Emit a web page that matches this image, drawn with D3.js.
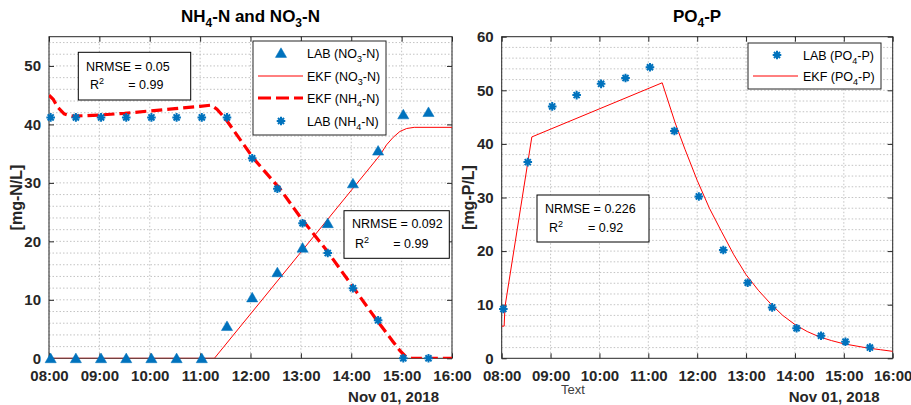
<!DOCTYPE html>
<html>
<head>
<meta charset="utf-8">
<script src="https://cdn.jsdelivr.net/npm/d3@7"></script>
<style>
  html, body { margin: 0; padding: 0; background: #fff; }
  svg { display: block; font-family: "Liberation Sans", Arial, sans-serif; }
</style>
</head>
<body>
<svg id="chart" width="911" height="405"></svg>
<script>
// ---------------- DATA ----------------
const xTickLabels = ["08:00","09:00","10:00","11:00","12:00","13:00","14:00","15:00","16:00"];
const leftYTicks = [0, 10, 20, 30, 40, 50];
const rightYTicks = [0, 10, 20, 30, 40, 50, 60];

const labTimes = ["08:02","08:32","09:02","09:32","10:02","10:32","11:02","11:32",
                  "12:02","12:32","13:02","13:32","14:02","14:32","15:02","15:32"];
const nh4Lab = [41.2,41.2,41.2,41.2,41.2,41.2,41.2,41.2,34.2,29.0,23.1,18.0,12.0,6.5,0.0,0.0];
const no3Lab = [0,0,0,0,0,0,0,5.5,10.4,14.7,18.9,23.1,29.9,35.5,41.7,42.1];
const po4Lab = [9.2,36.6,47.0,49.1,51.2,52.3,54.3,42.4,30.2,20.2,14.1,9.5,5.6,4.2,3.1,2.0];

const ekfNH4Times = ["08:00","08:05","08:10","08:18","08:27","09:00","09:30","10:00","10:30","11:00",
                     "11:13","11:20","11:30","12:04","12:35","13:00","13:31","14:02","14:30","14:50",
                     "14:58","15:05","15:12","16:00"];
const ekfNH4 = [45.0,44.3,43.0,41.8,41.4,41.6,41.9,42.3,42.7,43.1,
                43.3,42.6,41.0,34.1,29.0,24.0,18.4,12.2,6.6,2.8,
                1.3,0.3,0.0,0.0];

const ekfNO3Times = ["08:00","11:17","14:34","14:42","14:50","14:58","15:06","15:15","16:00"];
const ekfNO3 = [0,0,34.7,36.5,37.8,38.8,39.3,39.5,39.5];

const ekfPO4Times = ["08:00","08:03","08:04","08:37","11:17","11:33","11:45","12:00","12:15","12:30",
                     "12:45","13:00","13:15","13:30","13:45","14:00","14:15","14:30","14:45","15:00",
                     "15:15","15:30","15:45","16:00"];
const ekfPO4 = [6.0,6.0,9.6,41.3,51.4,43.9,39.0,33.2,28.0,23.6,
                19.3,15.6,12.7,10.2,8.0,6.3,5.0,4.0,3.3,2.7,
                2.3,1.9,1.6,1.3];

// ---------------- HELPERS ----------------
const parseT = d3.timeParse("%H:%M");
const svg = d3.select("#chart");
const AX = "#262626";
const BLUE = "#0072BD";
const RED = "#ff0000";
const GRID = "#b4b4b4";

function richText(g, x, y, parts, opts) {
  const t = g.append("text").attr("x", x).attr("y", y)
    .attr("font-size", opts.size).attr("font-weight", opts.weight || "normal")
    .attr("fill", opts.fill || "#000").attr("text-anchor", opts.anchor || "start");
  let shift = 0;
  parts.forEach(p => {
    const ts = t.append("tspan").text(p.t);
    let target = 0, fs = opts.size;
    if (p.sub) { target = opts.subShift; fs = opts.subSize; }
    if (p.sup) { target = -opts.supShift; fs = opts.subSize; }
    ts.attr("dy", target - shift).attr("font-size", fs);
    if (p.x !== undefined) ts.attr("x", p.x);
    shift = target;
  });
  return t;
}

function starPath(r) {
  const a = r * 0.7071;
  return `M${-r},0L${r},0M0,${-r}L0,${r}M${-a},${-a}L${a},${a}M${-a},${a}L${a},${-a}`;
}
const triPath = "M0,-5.2L5.6,4.4L-5.6,4.4Z";

function makePanel(cfg) {
  const { left, right, top, bottom, yMax, yTicks, id } = cfg;
  const x = d3.scaleTime().domain([parseT("08:00"), parseT("16:00")]).range([left, right]);
  const y = d3.scaleLinear().domain([0, yMax]).range([bottom, top]);
  const g = svg.append("g");

  g.append("defs").append("clipPath").attr("id", "clip" + id)
    .append("rect").attr("x", left).attr("y", top).attr("width", right - left).attr("height", bottom - top);

  // grid
  const grid = g.append("g");
  xTickLabels.map(parseT).forEach(t => {
    grid.append("line").attr("x1", x(t)).attr("x2", x(t)).attr("y1", top).attr("y2", bottom)
      .attr("stroke", GRID).attr("stroke-width", 0.8).attr("stroke-dasharray", "1.5,2");
  });
  d3.range(2, yMax, 2).forEach(v => {
    grid.append("line").attr("x1", left).attr("x2", right).attr("y1", y(v)).attr("y2", y(v))
      .attr("stroke", GRID).attr("stroke-width", 0.8).attr("stroke-dasharray", "1.5,2");
  });

  // axes
  const xAxis = d3.axisBottom(x).tickValues(xTickLabels.map(parseT))
    .tickFormat(d3.timeFormat("%H:%M")).tickSize(-5).tickPadding(12);
  const gx = g.append("g").attr("transform", `translate(0,${bottom})`).call(xAxis);
  const yAxis = d3.axisLeft(y).tickValues(yTicks).tickFormat(d3.format("d")).tickSize(-5).tickPadding(8);
  const gy = g.append("g").attr("transform", `translate(${left},0)`).call(yAxis);
  const gxt = g.append("g").attr("transform", `translate(0,${top})`)
    .call(d3.axisTop(x).tickValues(xTickLabels.map(parseT)).tickSize(-5).tickFormat(""));
  const gyr = g.append("g").attr("transform", `translate(${right},0)`)
    .call(d3.axisRight(y).tickValues(yTicks).tickSize(-5).tickFormat(""));
  [gx, gy, gxt, gyr].forEach(a => {
    a.select(".domain").remove();
    a.selectAll(".tick line").attr("stroke", AX).attr("stroke-width", 1);
    a.selectAll(".tick text").attr("fill", AX).attr("font-size", 15).attr("font-weight", "bold")
      .attr("font-family", '"Liberation Sans", Arial, sans-serif');
  });
  g.append("rect").attr("x", left).attr("y", top).attr("width", right - left).attr("height", bottom - top)
    .attr("fill", "none").attr("stroke", AX).attr("stroke-width", 1);

  // date label
  g.append("text").attr("x", right - 13).attr("y", 402).attr("text-anchor", "end")
    .attr("font-size", 15).attr("font-weight", "bold").attr("fill", AX).text("Nov 01, 2018");

  const plot = g.append("g").attr("clip-path", `url(#clip${id})`);
  return { x, y, g, plot };
}

// ---------------- LEFT PANEL ----------------
const L = makePanel({ id: "L", left: 49, right: 452, top: 36.7, bottom: 358.3, yMax: 55, yTicks: leftYTicks });

const line = (xs, ys) => d3.line().x((d, i) => xs(parseT(d.t))).y(d => ys(d.v));

L.plot.append("path")
  .datum(ekfNO3Times.map((t, i) => ({ t, v: ekfNO3[i] })))
  .attr("d", line(L.x, L.y)).attr("fill", "none").attr("stroke", RED).attr("stroke-width", 1);
L.plot.append("path")
  .datum(ekfNH4Times.map((t, i) => ({ t, v: ekfNH4[i] })))
  .attr("d", line(L.x, L.y)).attr("fill", "none").attr("stroke", RED).attr("stroke-width", 3.2)
  .attr("stroke-dasharray", "11,5");

L.g.selectAll(".tri").data(labTimes.map((t, i) => ({ t, v: no3Lab[i] }))).join("path")
  .attr("transform", d => `translate(${L.x(parseT(d.t))},${L.y(d.v)})`)
  .attr("d", triPath).attr("fill", BLUE).attr("stroke", BLUE).attr("stroke-width", 0.5);
L.g.selectAll(".starL").data(labTimes.map((t, i) => ({ t, v: nh4Lab[i] }))).join("path")
  .attr("transform", d => `translate(${L.x(parseT(d.t))},${L.y(d.v)})`)
  .attr("d", starPath(4.3)).attr("fill", "none").attr("stroke", BLUE).attr("stroke-width", 2);

// title
richText(svg, 250.5, 21.5, [{ t: "NH" }, { t: "4", sub: true }, { t: "-N and NO" }, { t: "3", sub: true }, { t: "-N" }],
  { size: 17, weight: "bold", anchor: "middle", subShift: 5, subSize: 12, fill: "#000" });

// y label
svg.append("text").attr("transform", "translate(22,197.5) rotate(-90)").attr("text-anchor", "middle")
  .attr("font-size", 16).attr("font-weight", "bold").attr("fill", AX).text("[mg-N/L]");

// NRMSE box 1
const tOpts = { size: 12.5, subShift: 4, supShift: 5, subSize: 9, fill: "#000" };
svg.append("rect").attr("x", 78.3).attr("y", 52.3).attr("width", 112.4).attr("height", 47.7)
  .attr("fill", "#fff").attr("stroke", "#000").attr("stroke-width", 1);
richText(svg, 86, 71, [{ t: "NRMSE = 0.05" }], tOpts);
richText(svg, 90, 89, [{ t: "R" }, { t: "2", sup: true }, { t: "= 0.99", x: 128.3 }], tOpts);

// NRMSE box 2
svg.append("rect").attr("x", 344).attr("y", 210.7).attr("width", 105.3).attr("height", 47.6)
  .attr("fill", "#fff").attr("stroke", "#000").attr("stroke-width", 1);
richText(svg, 352, 228, [{ t: "NRMSE = 0.092" }], tOpts);
richText(svg, 355, 248, [{ t: "R" }, { t: "2", sup: true }, { t: "= 0.99", x: 393.3 }], tOpts);

// legend left
const lg = svg.append("g");
lg.append("rect").attr("x", 253).attr("y", 41).attr("width", 133).attr("height", 94)
  .attr("fill", "#fff").attr("stroke", AX).attr("stroke-width", 1);
const lOpts = { size: 12.5, subShift: 4, subSize: 9, fill: "#000" };
lg.append("path").attr("transform", "translate(281,53)").attr("d", triPath).attr("fill", BLUE)
  .attr("stroke", BLUE).attr("stroke-width", 0.5);
richText(lg, 307, 57.5, [{ t: "LAB (NO" }, { t: "3", sub: true }, { t: "-N)" }], lOpts);
lg.append("line").attr("x1", 258).attr("x2", 303).attr("y1", 76).attr("y2", 76).attr("stroke", RED).attr("stroke-width", 1);
richText(lg, 307, 80.5, [{ t: "EKF (NO" }, { t: "3", sub: true }, { t: "-N)" }], lOpts);
lg.append("line").attr("x1", 258).attr("x2", 303).attr("y1", 98).attr("y2", 98).attr("stroke", RED)
  .attr("stroke-width", 3.2).attr("stroke-dasharray", "13,5");
richText(lg, 307, 102.5, [{ t: "EKF (NH" }, { t: "4", sub: true }, { t: "-N)" }], lOpts);
lg.append("path").attr("transform", "translate(281,121)").attr("d", starPath(4.3)).attr("fill", "none")
  .attr("stroke", BLUE).attr("stroke-width", 2);
richText(lg, 307, 125.5, [{ t: "LAB (NH" }, { t: "4", sub: true }, { t: "-N)" }], lOpts);

// ---------------- RIGHT PANEL ----------------
const R = makePanel({ id: "R", left: 501.7, right: 892.7, top: 36.7, bottom: 358.3, yMax: 60, yTicks: rightYTicks });

R.plot.append("path")
  .datum(ekfPO4Times.map((t, i) => ({ t, v: ekfPO4[i] })))
  .attr("d", line(R.x, R.y)).attr("fill", "none").attr("stroke", RED).attr("stroke-width", 1);
R.g.selectAll(".starR").data(labTimes.map((t, i) => ({ t, v: po4Lab[i] }))).join("path")
  .attr("transform", d => `translate(${R.x(parseT(d.t))},${R.y(d.v)})`)
  .attr("d", starPath(4.3)).attr("fill", "none").attr("stroke", BLUE).attr("stroke-width", 2);

richText(svg, 697, 21.5, [{ t: "PO" }, { t: "4", sub: true }, { t: "-P" }],
  { size: 17, weight: "bold", anchor: "middle", subShift: 5, subSize: 12, fill: "#000" });

svg.append("text").attr("transform", "translate(474,197.5) rotate(-90)").attr("text-anchor", "middle")
  .attr("font-size", 16).attr("font-weight", "bold").attr("fill", AX).text("[mg-P/L]");

svg.append("text").attr("x", 573).attr("y", 394).attr("text-anchor", "middle")
  .attr("font-size", 13).attr("fill", "#404040").text("Text");

// NRMSE box right
svg.append("rect").attr("x", 537).attr("y", 195).attr("width", 112).attr("height", 47)
  .attr("fill", "#fff").attr("stroke", "#000").attr("stroke-width", 1);
richText(svg, 545, 213, [{ t: "NRMSE = 0.226" }], tOpts);
richText(svg, 549, 232, [{ t: "R" }, { t: "2", sup: true }, { t: "= 0.92", x: 588 }], tOpts);

// legend right
const rg = svg.append("g");
rg.append("rect").attr("x", 748).attr("y", 43).attr("width", 133).attr("height", 46)
  .attr("fill", "#fff").attr("stroke", AX).attr("stroke-width", 1);
rg.append("path").attr("transform", "translate(777,55)").attr("d", starPath(4.3)).attr("fill", "none")
  .attr("stroke", BLUE).attr("stroke-width", 2);
richText(rg, 803, 59.5, [{ t: "LAB (PO" }, { t: "4", sub: true }, { t: "-P)" }], lOpts);
rg.append("line").attr("x1", 753).attr("x2", 798).attr("y1", 76).attr("y2", 76).attr("stroke", RED).attr("stroke-width", 1);
richText(rg, 803, 80.5, [{ t: "EKF (PO" }, { t: "4", sub: true }, { t: "-P)" }], lOpts);
</script>
</body>
</html>
